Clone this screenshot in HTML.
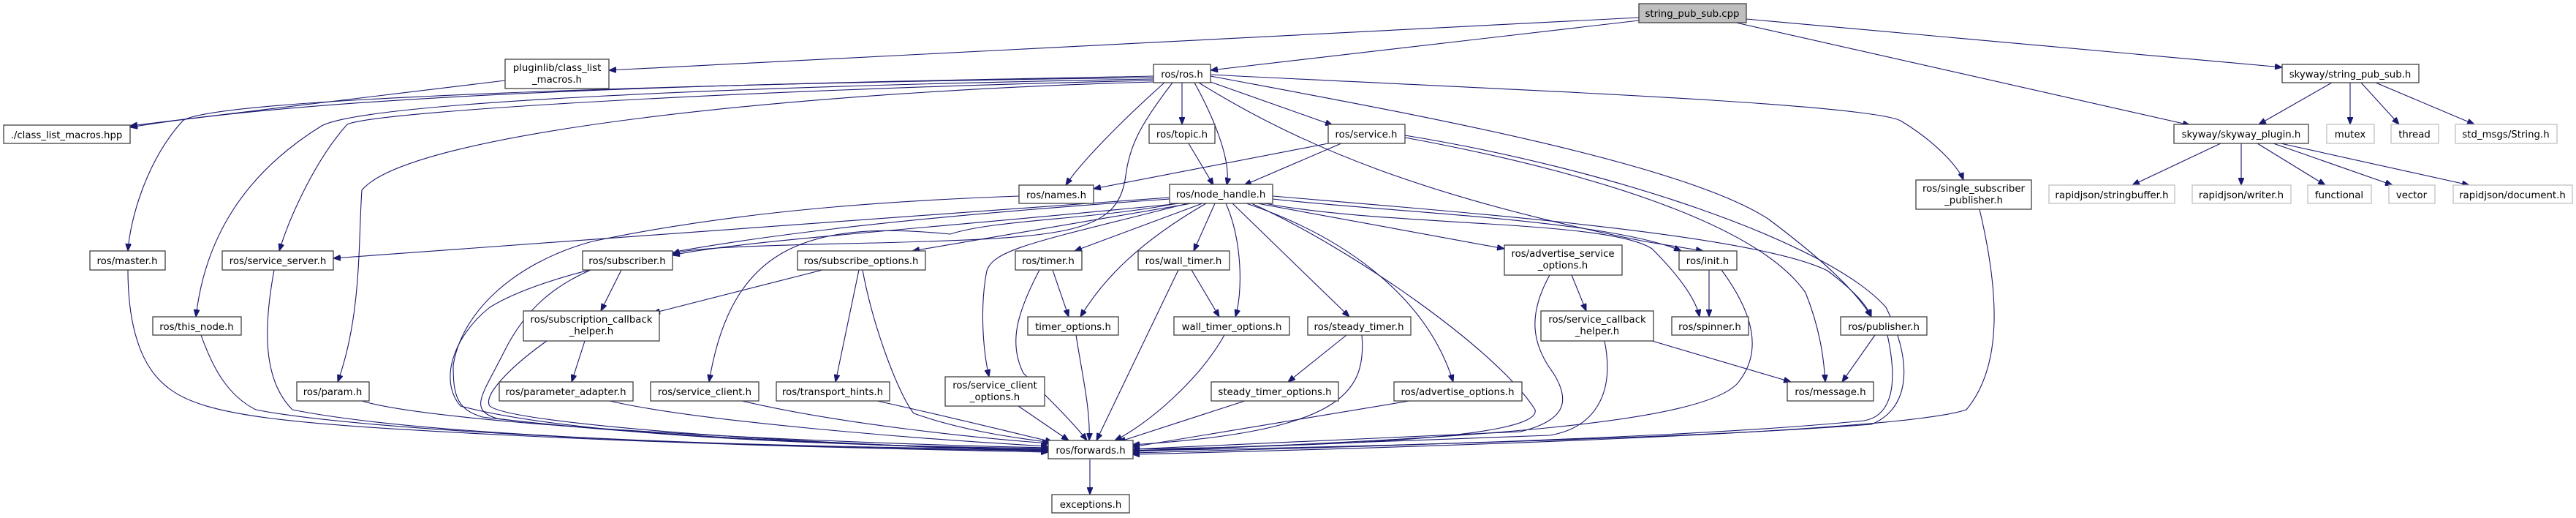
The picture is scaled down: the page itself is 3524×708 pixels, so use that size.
<!DOCTYPE html>
<html><head><meta charset="utf-8"><style>
html,body{margin:0;padding:0;background:#fff;}
svg{display:block;}
text{font-family:"DejaVu Sans","Liberation Sans",sans-serif;font-size:13.3px;fill:#000;text-anchor:middle;}
.n{fill:#fff;stroke:#404040;stroke-width:1.3;}
.g{fill:#fff;stroke:#bfbfbf;stroke-width:1.3;}
.e{fill:none;stroke:#191970;stroke-width:1.1;marker-end:url(#a);}
</style></head><body>
<svg width="3524" height="708" viewBox="0 0 3524 708" xmlns="http://www.w3.org/2000/svg">
<defs><marker id="a" viewBox="0 0 10 8" refX="10" refY="4" markerWidth="10" markerHeight="8" markerUnits="userSpaceOnUse" orient="auto"><path d="M0,0 L10,4 L0,8 z" fill="#191970" stroke="#191970"/></marker></defs>

<!-- edges -->
<path class="e" d="M2242,24 L833,96"/>
<path class="e" d="M2242,28 L1656,96"/>
<path class="e" d="M2389,26 L3122,92"/>
<path class="e" d="M2375,31 L2996,171"/>
<path class="e" d="M691,110 L178,172"/>
<path class="e" d="M1578,104 C1200,112 500,120 178,174"/>
<path class="e" d="M1578,106 C1100,112 300,130 250,165 C200,220 178,300 175,343"/>
<path class="e" d="M1578,108 C1000,118 500,140 440,172 C330,240 280,330 268,433"/>
<path class="e" d="M1578,110 C1100,120 520,150 475,170 C430,220 395,300 382,343"/>
<path class="e" d="M1578,112 C1100,125 560,180 495,260 C490,330 495,430 462,522"/>
<path class="e" d="M1617,113 L1617,170"/>
<path class="e" d="M1593,113 C1540,160 1480,220 1458,253"/>
<path class="e" d="M1634,113 C1660,160 1685,220 1678,253"/>
<path class="e" d="M1656,112 L1823,171"/>
<path class="e" d="M1604,113 C1560,170 1545,200 1540,240 C1530,320 1460,325 1200,332 C1000,336 940,340 920,347"/>
<path class="e" d="M1656,104 C1900,150 2300,220 2420,300 C2500,360 2540,400 2560,433"/>
<path class="e" d="M1640,113 C1780,200 1950,270 2250,330 L2330,343"/>
<path class="e" d="M1656,102 C2000,120 2550,140 2600,165 C2650,195 2680,230 2686,246"/>
<path class="e" d="M1626,196 L1660,253"/>
<path class="e" d="M1817,196 L1496,258"/>
<path class="e" d="M1835,196 L1702,253"/>
<path class="e" d="M1922,188 C2150,230 2400,300 2470,400 C2490,450 2495,490 2497,522"/>
<path class="e" d="M1922,185 C2200,230 2500,330 2580,420 C2620,500 2610,560 2560,580 C2300,600 1800,612 1549,616"/>
<path class="e" d="M1394,268 C1200,275 1000,290 810,330 C700,360 630,430 620,500 C620,540 625,560 660,570 C900,600 1300,612 1434,617"/>
<path class="e" d="M1599,270 L456,353"/>
<path class="e" d="M1615,278 C1300,310 1000,330 920,349"/>
<path class="e" d="M1630,278 L1248,343"/>
<path class="e" d="M1610,278 C1500,300 1360,300 1300,320 C1100,300 1000,340 970,522"/>
<path class="e" d="M1600,272 C1200,300 800,340 670,420 C620,460 600,520 630,555 C800,600 1200,610 1434,613"/>
<path class="e" d="M1645,278 L1470,343"/>
<path class="e" d="M1650,278 C1560,330 1510,380 1478,433"/>
<path class="e" d="M1662,278 L1633,343"/>
<path class="e" d="M1677,278 C1700,330 1700,400 1690,433"/>
<path class="e" d="M1686,278 L1846,433"/>
<path class="e" d="M1705,278 C1830,320 1950,400 1988,522"/>
<path class="e" d="M1720,278 L2058,340"/>
<path class="e" d="M1741,272 C1900,290 2200,300 2300,343"/>
<path class="e" d="M1730,278 C1900,310 2200,300 2260,340 C2300,380 2320,410 2325,433"/>
<path class="e" d="M1741,268 C2000,290 2400,320 2500,370 C2540,400 2555,420 2560,433"/>
<path class="e" d="M1625,278 C1420,330 1360,340 1350,370 C1340,420 1345,480 1353,515"/>
<path class="e" d="M1712,278 C1850,340 2050,480 2100,560 C2110,600 1800,610 1549,614"/>
<path class="e" d="M850,369 L822,425"/>
<path class="e" d="M808,369 C760,390 720,420 690,480 C660,540 640,560 680,572 C900,600 1300,612 1434,615"/>
<path class="e" d="M1125,369 L893,428"/>
<path class="e" d="M1175,369 L1143,522"/>
<path class="e" d="M1180,369 C1195,450 1230,540 1250,565 C1320,590 1400,600 1440,605"/>
<path class="e" d="M800,466 L782,522"/>
<path class="e" d="M748,466 C700,500 660,540 670,555 C700,580 1100,608 1434,616"/>
<path class="e" d="M175,369 C175,440 190,500 230,530 C280,570 400,580 700,595 C1000,610 1300,615 1434,618"/>
<path class="e" d="M275,458 C290,500 310,540 350,560 C500,590 1000,612 1434,616"/>
<path class="e" d="M375,369 C360,450 360,520 400,560 C600,600 1100,612 1434,614"/>
<path class="e" d="M495,548 C600,580 1100,605 1434,612"/>
<path class="e" d="M834,548 C950,575 1250,600 1434,610"/>
<path class="e" d="M1015,548 C1150,580 1350,600 1436,606"/>
<path class="e" d="M1200,548 C1300,570 1400,595 1440,604"/>
<path class="e" d="M1393,555 L1462,602"/>
<path class="e" d="M1422,369 C1390,430 1380,470 1400,510 C1440,550 1470,580 1487,602"/>
<path class="e" d="M1440,369 L1462,433"/>
<path class="e" d="M1472,458 C1480,510 1492,560 1490,602"/>
<path class="e" d="M1630,369 L1668,433"/>
<path class="e" d="M1612,369 L1500,602"/>
<path class="e" d="M1675,458 C1640,520 1570,580 1525,602"/>
<path class="e" d="M1842,458 L1762,522"/>
<path class="e" d="M1863,458 C1870,540 1830,590 1549,608"/>
<path class="e" d="M1703,548 L1530,604"/>
<path class="e" d="M1928,548 L1549,611"/>
<path class="e" d="M2120,376 C2090,430 2095,470 2125,510 C2150,550 2140,575 2080,590 L1549,614"/>
<path class="e" d="M2150,376 L2170,425"/>
<path class="e" d="M2260,466 L2450,522"/>
<path class="e" d="M2195,466 C2210,540 2180,585 2120,595 L1549,616"/>
<path class="e" d="M2338,369 L2338,433"/>
<path class="e" d="M2355,369 C2400,430 2410,480 2380,520 C2340,580 2000,600 1549,617"/>
<path class="e" d="M2565,458 L2520,522"/>
<path class="e" d="M2582,458 C2600,540 2580,570 2550,575 C2300,600 1800,612 1549,619"/>
<path class="e" d="M2708,286 C2735,400 2740,500 2690,560 C2600,590 2000,610 1549,621"/>
<path class="e" d="M3190,113 L3090,170"/>
<path class="e" d="M3215,113 L3215,170"/>
<path class="e" d="M3230,113 L3282,170"/>
<path class="e" d="M3250,113 L3385,170"/>
<path class="e" d="M3038,196 L2917,253"/>
<path class="e" d="M3066,196 L3066,253"/>
<path class="e" d="M3088,196 L3181,253"/>
<path class="e" d="M3110,196 L3273,253"/>
<path class="e" d="M3120,196 L3378,253"/>
<path class="e" d="M1491,628 L1491,676"/>

<!-- nodes -->
<rect x="2242" y="5" width="147" height="26" fill="#bfbfbf" stroke="#404040" stroke-width="1.3"/><text x="2315" y="23">string_pub_sub.cpp</text>
<rect class="n" x="691" y="81" width="142" height="40"/><text x="762" y="97">pluginlib/class_list</text><text x="762" y="113">_macros.h</text>
<rect class="n" x="5" y="171" width="173" height="25"/><text x="91" y="189">./class_list_macros.hpp</text>
<rect class="n" x="1578" y="88" width="78" height="25"/><text x="1617" y="106">ros/ros.h</text>
<rect class="n" x="3122" y="88" width="187" height="25"/><text x="3215" y="106">skyway/string_pub_sub.h</text>
<rect class="n" x="1572" y="170" width="90" height="26"/><text x="1617" y="188">ros/topic.h</text>
<rect class="n" x="1817" y="170" width="105" height="26"/><text x="1869" y="188">ros/service.h</text>
<rect class="n" x="2974" y="170" width="184" height="26"/><text x="3066" y="188">skyway/skyway_plugin.h</text>
<rect class="g" x="3183" y="170" width="65" height="26"/><text x="3215" y="188">mutex</text>
<rect class="g" x="3271" y="170" width="65" height="26"/><text x="3303" y="188">thread</text>
<rect class="g" x="3359" y="170" width="139" height="26"/><text x="3428" y="188">std_msgs/String.h</text>
<rect class="n" x="1394" y="253" width="102" height="25"/><text x="1445" y="271">ros/names.h</text>
<rect class="n" x="1600" y="252" width="141" height="26"/><text x="1670" y="270">ros/node_handle.h</text>
<rect class="n" x="2621" y="246" width="158" height="40"/><text x="2700" y="262">ros/single_subscriber</text><text x="2700" y="278">_publisher.h</text>
<rect class="g" x="2803" y="253" width="172" height="25"/><text x="2889" y="271">rapidjson/stringbuffer.h</text>
<rect class="g" x="2999" y="253" width="135" height="25"/><text x="3066" y="271">rapidjson/writer.h</text>
<rect class="g" x="3157" y="253" width="87" height="25"/><text x="3200" y="271">functional</text>
<rect class="g" x="3268" y="253" width="63" height="25"/><text x="3299" y="271">vector</text>
<rect class="g" x="3356" y="253" width="163" height="25"/><text x="3437" y="271">rapidjson/document.h</text>
<rect class="n" x="123" y="343" width="103" height="26"/><text x="174" y="361">ros/master.h</text>
<rect class="n" x="304" y="343" width="152" height="26"/><text x="380" y="361">ros/service_server.h</text>
<rect class="n" x="797" y="343" width="123" height="26"/><text x="858" y="361">ros/subscriber.h</text>
<rect class="n" x="1091" y="343" width="175" height="26"/><text x="1178" y="361">ros/subscribe_options.h</text>
<rect class="n" x="1389" y="343" width="91" height="26"/><text x="1434" y="361">ros/timer.h</text>
<rect class="n" x="1557" y="343" width="125" height="26"/><text x="1619" y="361">ros/wall_timer.h</text>
<rect class="n" x="2058" y="335" width="161" height="41"/><text x="2138" y="351">ros/advertise_service</text><text x="2138" y="367">_options.h</text>
<rect class="n" x="2297" y="343" width="79" height="26"/><text x="2336" y="361">ros/init.h</text>
<rect class="n" x="2518" y="433" width="118" height="25"/><text x="2577" y="451">ros/publisher.h</text>
<rect class="n" x="209" y="433" width="121" height="25"/><text x="269" y="451">ros/this_node.h</text>
<rect class="n" x="716" y="425" width="186" height="41"/><text x="809" y="441">ros/subscription_callback</text><text x="809" y="457">_helper.h</text>
<rect class="n" x="1406" y="433" width="124" height="25"/><text x="1468" y="451">timer_options.h</text>
<rect class="n" x="1606" y="433" width="158" height="25"/><text x="1685" y="451">wall_timer_options.h</text>
<rect class="n" x="1789" y="433" width="141" height="25"/><text x="1859" y="451">ros/steady_timer.h</text>
<rect class="n" x="2108" y="425" width="154" height="41"/><text x="2185" y="441">ros/service_callback</text><text x="2185" y="457">_helper.h</text>
<rect class="n" x="2287" y="433" width="105" height="25"/><text x="2339" y="451">ros/spinner.h</text>
<rect class="n" x="406" y="522" width="99" height="26"/><text x="455" y="540">ros/param.h</text>
<rect class="n" x="683" y="522" width="183" height="26"/><text x="774" y="540">ros/parameter_adapter.h</text>
<rect class="n" x="890" y="522" width="148" height="26"/><text x="964" y="540">ros/service_client.h</text>
<rect class="n" x="1062" y="522" width="155" height="26"/><text x="1139" y="540">ros/transport_hints.h</text>
<rect class="n" x="1293" y="515" width="136" height="40"/><text x="1361" y="531">ros/service_client</text><text x="1361" y="547">_options.h</text>
<rect class="n" x="1657" y="522" width="174" height="26"/><text x="1744" y="540">steady_timer_options.h</text>
<rect class="n" x="1907" y="522" width="175" height="26"/><text x="1994" y="540">ros/advertise_options.h</text>
<rect class="n" x="2445" y="522" width="118" height="26"/><text x="2504" y="540">ros/message.h</text>
<rect class="n" x="1434" y="602" width="116" height="25"/><text x="1492" y="620">ros/forwards.h</text>
<rect class="n" x="1439" y="676" width="106" height="25"/><text x="1492" y="694">exceptions.h</text>
</svg>
</body></html>
